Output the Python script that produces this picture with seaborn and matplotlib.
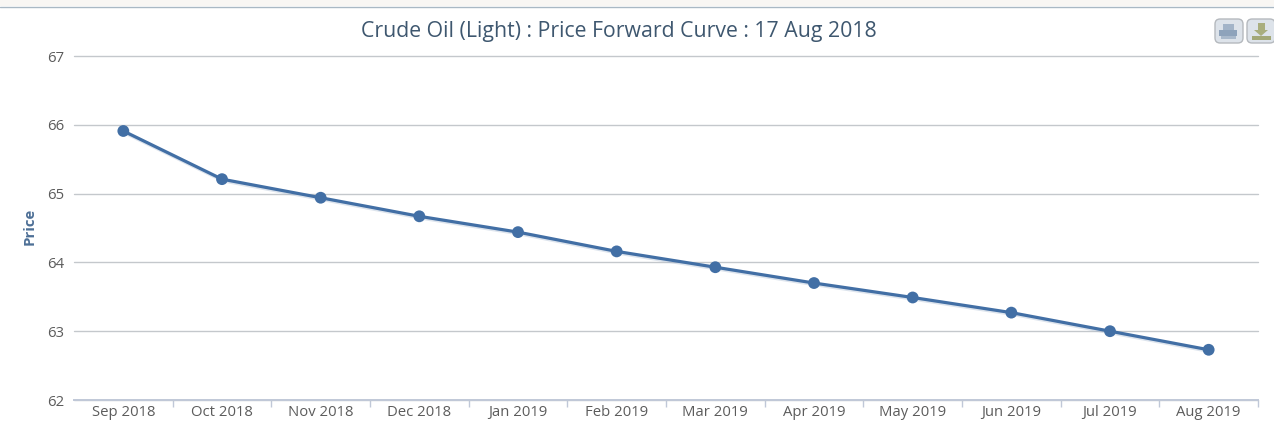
import matplotlib
matplotlib.use("Agg")

import numpy as np
import pandas as pd
import seaborn as sns

from matplotlib import pyplot as plt
from matplotlib import patheffects as pe
from matplotlib.lines import Line2D
from matplotlib.patches import FancyBboxPatch, Rectangle

months = ["Sep 2018", "Oct 2018", "Nov 2018", "Dec 2018", "Jan 2019", "Feb 2019",
          "Mar 2019", "Apr 2019", "May 2019", "Jun 2019", "Jul 2019", "Aug 2019"]
prices = [65.91, 65.21, 64.94, 64.67, 64.44, 64.16,
          63.93, 63.70, 63.49, 63.27, 63.00, 62.73]
y_ticks = [62, 63, 64, 65, 66, 67]

W, H = 1274, 426
LINE = "#426fa5"

sns.set_theme(style="white")
plt.rcParams["font.family"] = ["Open Sans", "DejaVu Sans"]

fig = plt.figure(figsize=(W / 100, H / 100), dpi=100)
ax = fig.add_axes([74 / W, 1 - 400 / H, (1258 - 74) / W, (400 - 56) / H])

df = pd.DataFrame({"month": months, "price": prices})
sns.lineplot(data=df, x="month", y="price", ax=ax, color=LINE, linewidth=2.3,
             marker="o", markersize=8.5, markeredgewidth=0, sort=False,
             path_effects=[pe.SimpleLineShadow(offset=(0.6, -1.2), shadow_color="#9fb3cc", alpha=0.35),
                           pe.Normal()])

ax.set_xlim(-0.5, 11.5)
ax.set_ylim(62, 67)
ax.set_yticks(y_ticks)
ax.yaxis.grid(True, color="#c4c8cc", linewidth=1, clip_on=False)
ax.set_axisbelow(True)

for side in ["top", "right", "left"]:
    ax.spines[side].set_visible(False)
ax.spines["bottom"].set_color("#c0c8d8")
ax.spines["bottom"].set_linewidth(1.4)

# tick marks sit between the months, labels sit on them
ax.set_xticks(np.arange(12))
ax.set_xticklabels(months)
ax.set_xticks(np.arange(0.5, 12), minor=True)
ax.tick_params(axis="x", which="major", length=0, pad=3.5, labelsize=10.7, labelcolor="#5c5c5c")
ax.tick_params(axis="x", which="minor", length=5, width=1, color="#c0c8d8", bottom=True)
ax.tick_params(axis="y", length=0, pad=7, labelsize=10.7, labelcolor="#5c5c5c")

ax.set_xlabel("")
ax.set_ylabel("")
fig.text(30 / W, 1 - 226 / H, "Price", rotation=90, ha="center", va="center",
         fontsize=10.8, fontweight="bold", color="#4d6f96")
fig.text(619 / W, 1 - 31 / H, "Crude Oil (Light) : Price Forward Curve : 17 Aug 2018",
         ha="center", va="center", fontsize=15.3, color="#3E576F")

# frame line along the top of the chart box
fig.add_artist(Rectangle((0, 1 - 6 / H), 1, 6 / H, transform=fig.transFigure,
                         facecolor="#f8f6f3", edgecolor="none"))
fig.add_artist(Line2D([0, 1], [1 - 6.5 / H] * 2, color="#a9b8c4", linewidth=1))

# print and download buttons
for left in [1215, 1247]:
    fig.add_artist(FancyBboxPatch((left / W, 1 - 43 / H), 28 / W, 24 / H,
                                  boxstyle="round,pad=0,rounding_size=0.004", mutation_aspect=3,
                                  transform=fig.transFigure, facecolor="#dde3ea",
                                  edgecolor="#b5b9be", linewidth=1))
for x0, y0, w, h, c in [(1223, 24, 11, 6, "#a3b4c8"), (1219, 30, 18, 6, "#8ea3bb"), (1221, 36, 15, 3, "#a9b9cb"),
                        (1258, 23, 7, 7, "#a9ae7e"), (1252, 36, 19, 4, "#a3a878")]:
    fig.add_artist(Rectangle((x0 / W, 1 - (y0 + h) / H), w / W, h / H, transform=fig.transFigure,
                             facecolor=c, edgecolor="none"))
fig.add_artist(plt.Polygon([[1254 / W, 1 - 30 / H], [1268 / W, 1 - 30 / H], [1261 / W, 1 - 36 / H]],
                           transform=fig.transFigure, facecolor="#a9ae7e", edgecolor="none"))

fig.savefig("out.png", dpi=100, facecolor="white")
